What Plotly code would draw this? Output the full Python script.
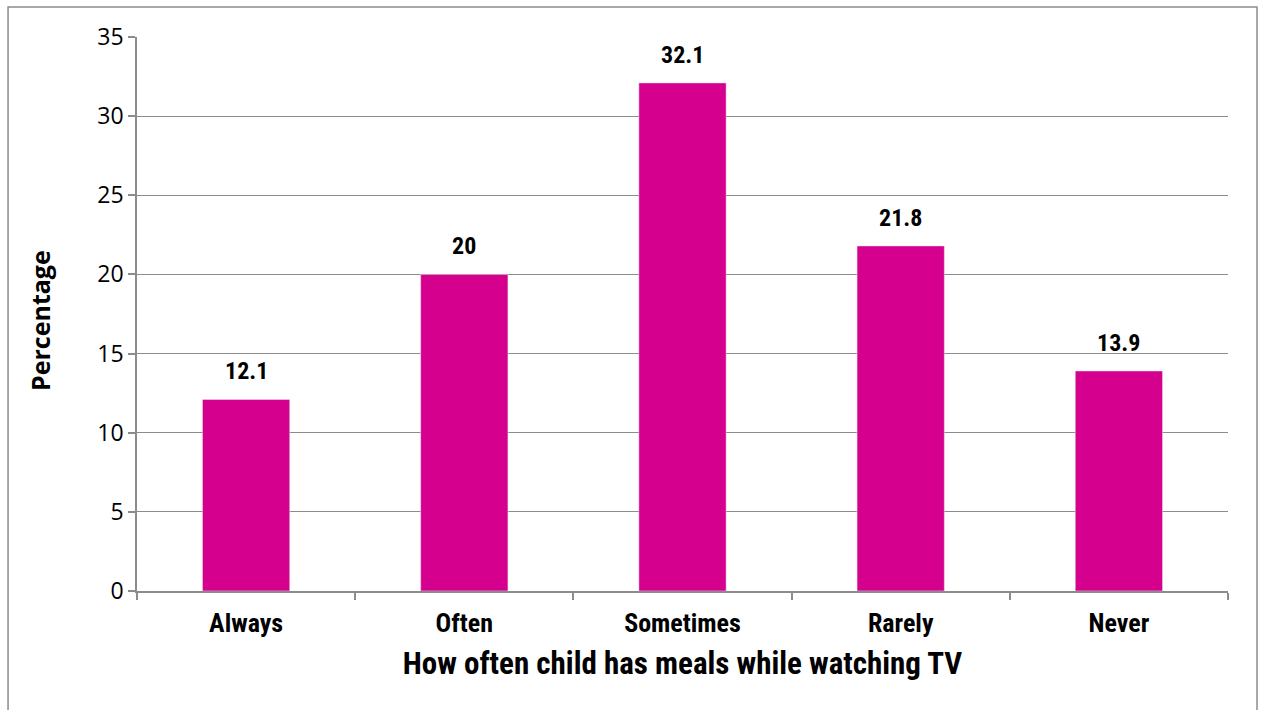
import plotly.graph_objects as go

categories = ["Always", "Often", "Sometimes", "Rarely", "Never"]
values = [12.1, 20, 32.1, 21.8, 13.9]
value_labels = ["12.1", "20", "32.1", "21.8", "13.9"]
y_ticks = [0, 5, 10, 15, 20, 25, 30, 35]

BAR = "#D6008F"
GRID = "#8C8C8C"
NARROW = "Roboto Condensed, Liberation Sans Narrow, sans-serif"
TICKF = "Open Sans, Lato, sans-serif"

fig = go.Figure(go.Bar(
    x=categories, y=values, marker_color=BAR, width=0.4,
))

for c, v, t in zip(categories, values, value_labels):
    fig.add_annotation(x=c, y=v, text=f"<b>{t}</b>", showarrow=False,
                       yanchor="bottom", yshift=12,
                       font=dict(family=NARROW, size=24, color="black"))

fig.add_annotation(xref="paper", yref="paper", x=-0.0889, y=0.4874,
                   text="<b>Percentage</b>", textangle=-90, showarrow=False,
                   xanchor="center", yanchor="middle",
                   font=dict(family=TICKF, size=25, color="black"))

fig.update_layout(
    width=1261, height=710,
    margin=dict(l=137, r=33, t=37, b=119),
    paper_bgcolor="white", plot_bgcolor="white",
    showlegend=False,
    xaxis=dict(
        tickvals=categories, ticktext=[f"<b>{c}</b>" for c in categories],
        showline=True, linecolor=GRID, linewidth=1.5,
        ticks="outside", tickson="boundaries", ticklen=7, tickcolor=GRID, tickwidth=1.5,
        ticklabelstandoff=8,
        tickfont=dict(family=NARROW, size=26, color="black"),
        title=dict(text="<b>How often child has meals while watching TV</b>",
                   font=dict(family=NARROW, size=31, color="black"), standoff=15),
        showgrid=False,
    ),
    yaxis=dict(
        range=[0, 35], tickvals=y_ticks,
        showline=True, linecolor=GRID, linewidth=1.5,
        ticks="outside", ticklen=7, tickcolor=GRID, tickwidth=1.5,
        showgrid=True, gridcolor=GRID, gridwidth=1.3,
        tickfont=dict(family=TICKF, size=23, color="black"),
        zeroline=False,
    ),
    bargap=0.6,
)

fig.add_shape(type="rect", xref="paper", yref="paper",
              x0=-0.1182, x1=1.0266, y0=-0.35, y1=1.0542,
              line=dict(color="#8C8C8C", width=1.5), fillcolor="rgba(0,0,0,0)", layer="below")

fig.write_html("out.html")
